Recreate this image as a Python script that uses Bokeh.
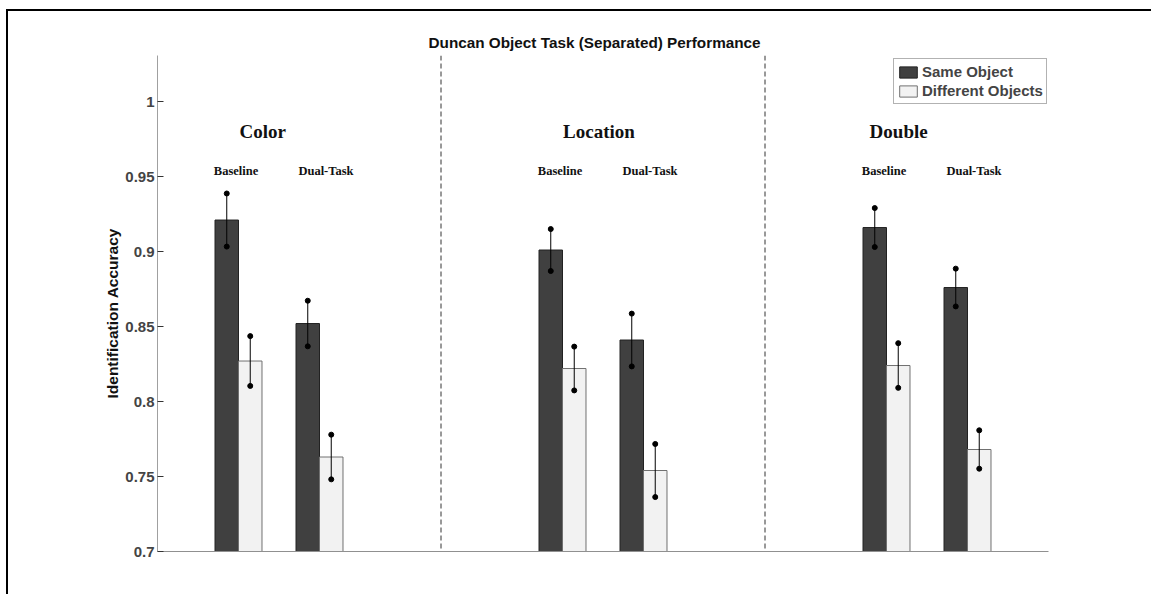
from bokeh.plotting import figure
from bokeh.models import Range1d, ColumnDataSource, FixedTicker, Span, Legend, LegendItem, Title
from bokeh.core.properties import value
from bokeh.embed import file_html
from bokeh.resources import INLINE

# ---- data ----
conditions = ["Color", "Location", "Double"]
tasks = ["Baseline", "Dual-Task"]
series = ["Same Object", "Different Objects"]

same_baseline = [0.921, 0.901, 0.916]
same_dual = [0.852, 0.841, 0.876]
diff_baseline = [0.827, 0.822, 0.824]
diff_dual = [0.763, 0.754, 0.768]

same_baseline_err = [0.0177, 0.0140, 0.0130]
same_dual_err = [0.0152, 0.0176, 0.0126]
diff_baseline_err = [0.0166, 0.0146, 0.0149]
diff_dual_err = [0.0149, 0.0177, 0.0128]

y_ticks = [0.7, 0.75, 0.8, 0.85, 0.9, 0.95, 1.0]
y_tick_labels = ["0.7", "0.75", "0.8", "0.85", "0.9", "0.95", "1"]

DARK = "#404040"
LIGHT = "#f2f2f2"

# ---- positions computed from structure ----
def pos(ci, ti):
    return ci * 4 + ti + 1

bw = 0.29
xs_same, ys_same, es_same = [], [], []
xs_diff, ys_diff, es_diff = [], [], []
for ci in range(len(conditions)):
    for ti, (sv, se, dv, de) in enumerate([
        (same_baseline[ci], same_baseline_err[ci], diff_baseline[ci], diff_baseline_err[ci]),
        (same_dual[ci], same_dual_err[ci], diff_dual[ci], diff_dual_err[ci]),
    ]):
        x = pos(ci, ti)
        xs_same.append(x - bw / 2); ys_same.append(sv); es_same.append(se)
        xs_diff.append(x + bw / 2); ys_diff.append(dv); es_diff.append(de)

src_same = ColumnDataSource(dict(x=xs_same, top=ys_same,
                                 lo=[y - e for y, e in zip(ys_same, es_same)],
                                 hi=[y + e for y, e in zip(ys_same, es_same)]))
src_diff = ColumnDataSource(dict(x=xs_diff, top=ys_diff,
                                 lo=[y - e for y, e in zip(ys_diff, es_diff)],
                                 hi=[y + e for y, e in zip(ys_diff, es_diff)]))

W, H = 1125, 585
p = figure(width=W, height=H, output_backend="svg", toolbar_location=None,
           x_range=Range1d(0, 11), y_range=Range1d(0.7, 1.0307),
           min_border_left=149, min_border_right=85, min_border_top=44, min_border_bottom=45)
# the black frame line of the original picture (top and left edges only)
p.styles = {"margin-left": "8px", "margin-top": "11px",
            "background-color": "white",
            "box-shadow": "-2px -2px 0px 0px black, 309.5px -293.5px 0px -291.5px black"}
p.outline_line_color = None
p.grid.visible = False
p.background_fill_color = "white"
p.border_fill_color = "white"

title = Title(text="Duncan Object Task (Separated) Performance", align="left", offset=271,
              text_font="Liberation Sans", text_font_style="bold",
              text_font_size="15.3px", text_color="#111111")
p.add_layout(title, "above")

# bars
r_same = p.vbar(x="x", top="top", bottom=0.7, width=bw, source=src_same,
                fill_color=DARK, line_color="#222222", line_width=1)
r_diff = p.vbar(x="x", top="top", bottom=0.7, width=bw, source=src_diff,
                fill_color=LIGHT, line_color="#707070", line_width=1)

# error bars
for src in (src_same, src_diff):
    p.segment(x0="x", x1="x", y0="lo", y1="hi", source=src, line_color="black", line_width=1)
    p.scatter(x="x", y="lo", source=src, size=5, fill_color="black", line_color="black")
    p.scatter(x="x", y="hi", source=src, size=5, fill_color="black", line_color="black")

# dashed separators between conditions
for ci in range(len(conditions) - 1):
    sep = (pos(ci, 1) + pos(ci + 1, 0)) / 2
    p.add_layout(Span(location=sep, dimension="height", line_color="#333333",
                      line_dash="5 3", line_width=1))

# condition labels
cond_label_x = [pos(0, 0) + 0.3, pos(1, 0) + 0.45, pos(2, 0) + 0.15]
p.text(x=cond_label_x, y=[0.98] * 3, text=conditions, text_align="center",
       text_baseline="middle", text_font=value("Liberation Serif"),
       text_font_style="bold", text_font_size="19px", text_color="#111111")

# task labels
tx, ty, tt = [], [], []
for ci in range(len(conditions)):
    tx += [pos(ci, 0) - 0.03, pos(ci, 1) + 0.08]
    ty += [0.954, 0.954]
    tt += tasks
p.text(x=tx, y=ty, text=tt, text_align="center", text_baseline="middle",
       text_font=value("Liberation Serif"), text_font_style="bold",
       text_font_size="12.5px", text_color="#111111")

# axes
p.yaxis.ticker = FixedTicker(ticks=y_ticks)
p.yaxis.major_label_overrides = {t: l for t, l in zip(y_ticks, y_tick_labels)}
p.yaxis.major_label_text_font = "Liberation Sans"
p.yaxis.major_label_text_font_style = "bold"
p.yaxis.major_label_text_font_size = "15px"
p.yaxis.major_label_standoff = 3
p.yaxis.major_tick_in = 6
p.yaxis.major_tick_out = 0
p.yaxis.minor_tick_line_color = None
p.yaxis.axis_line_color = "#a0a0a0"
p.yaxis.major_tick_line_color = "#333333"

# y-axis title, sitting a little below the frame's centre as in the original
ytitle = Title(text="Identification Accuracy", align="left", offset=153, standoff=3,
               text_font="Liberation Sans", text_font_style="bold",
               text_font_size="15.5px", text_color="#111111")
p.add_layout(ytitle, "left")

p.xaxis.ticker = FixedTicker(ticks=[])
p.xaxis.major_label_text_font_size = "0px"
p.xaxis.minor_tick_line_color = None
p.xaxis.major_tick_line_color = None
p.xaxis.axis_line_color = "#909090"

legend = Legend(items=[LegendItem(label=series[0], renderers=[r_same]),
                       LegendItem(label=series[1], renderers=[r_diff])],
                location=(736, 447))
legend.label_text_font = "Liberation Sans"
legend.label_text_font_style = "bold"
legend.label_text_font_size = "15px"
legend.glyph_width = 22
legend.glyph_height = 14
legend.label_standoff = 3
legend.label_height = 19
legend.spacing = 0
legend.padding = 3
legend.margin = 0
legend.border_line_color = "#666666"
legend.border_line_width = 1
legend.background_fill_alpha = 1
p.add_layout(legend)

open("out.html", "w").write(file_html(p, INLINE))
